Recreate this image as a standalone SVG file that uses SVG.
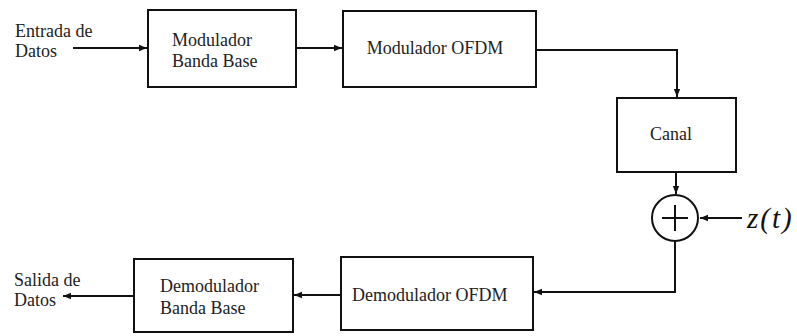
<svg xmlns="http://www.w3.org/2000/svg" width="797" height="336" viewBox="0 0 797 336">
<defs>
<marker id="ah" viewBox="0 0 10 10" refX="10" refY="5" markerWidth="8" markerHeight="8" markerUnits="userSpaceOnUse" orient="auto">
<path d="M0,1 L10,5 L0,9 Z" fill="#111"/>
</marker>
<style>
.box{fill:#fff;stroke:#111;stroke-width:2}
.t{font-family:'Liberation Serif',Tinos,'Times New Roman','Noto Serif','DejaVu Serif',serif;font-size:18px;fill:#222}
.c{text-anchor:middle}
.ln{fill:none;stroke:#111;stroke-width:2}
.z{font-family:'Liberation Serif',Tinos,'Times New Roman','DejaVu Serif',serif;font-style:italic;font-size:29px;letter-spacing:2px;fill:#111}
</style>
</defs>
<rect width="797" height="336" fill="#fff"/>
<g id="connectors">
<line class="ln" x1="73" y1="48" x2="147" y2="48" marker-end="url(#ah)"/>
<line class="ln" x1="296" y1="48" x2="342" y2="48" marker-end="url(#ah)"/>
<polyline class="ln" points="536,50 677,50 677,97" marker-end="url(#ah)"/>
<line class="ln" x1="676" y1="172" x2="676" y2="194" marker-end="url(#ah)"/>
<line class="ln" x1="742" y1="218" x2="700" y2="218" marker-end="url(#ah)"/>
<polyline class="ln" points="675,241 675,292 534,292" marker-end="url(#ah)"/>
<line class="ln" x1="341" y1="295" x2="294" y2="295" marker-end="url(#ah)"/>
<line class="ln" x1="133" y1="296" x2="63" y2="296" marker-end="url(#ah)"/>
</g>
<g id="input">
<text class="t" x="15" y="37">Entrada de</text>
<text class="t" x="15" y="57">Datos</text>
</g>
<g id="mod-banda-base">
<rect class="box" x="148" y="10" width="148" height="77"/>
<text class="t" x="172" y="46">Modulador</text>
<text class="t" x="172" y="67">Banda Base</text>
</g>
<g id="mod-ofdm">
<rect class="box" x="343" y="11" width="193" height="76"/>
<text class="t c" x="435" y="54">Modulador OFDM</text>
</g>
<g id="canal">
<rect class="box" x="617" y="98" width="119" height="74"/>
<text class="t c" x="671" y="140">Canal</text>
</g>
<g id="sumador">
<circle cx="675" cy="218" r="23" fill="#fff" stroke="#111" stroke-width="2"/>
<line class="ln" x1="662" y1="218" x2="688" y2="218" stroke-width="1.5"/>
<line class="ln" x1="675" y1="205" x2="675" y2="231" stroke-width="1.5"/>
</g>
<g id="ruido">
<text class="z" x="747" y="228">z(t)</text>
</g>
<g id="demod-ofdm">
<rect class="box" x="341" y="257" width="192" height="73"/>
<text class="t" x="352" y="301">Demodulador OFDM</text>
</g>
<g id="demod-banda-base">
<rect class="box" x="134" y="259" width="159" height="73"/>
<text class="t" x="160" y="292">Demodulador</text>
<text class="t" x="160" y="314">Banda Base</text>
</g>
<g id="output">
<text class="t" x="14" y="286">Salida de</text>
<text class="t" x="14" y="306">Datos</text>
</g>
</svg>
